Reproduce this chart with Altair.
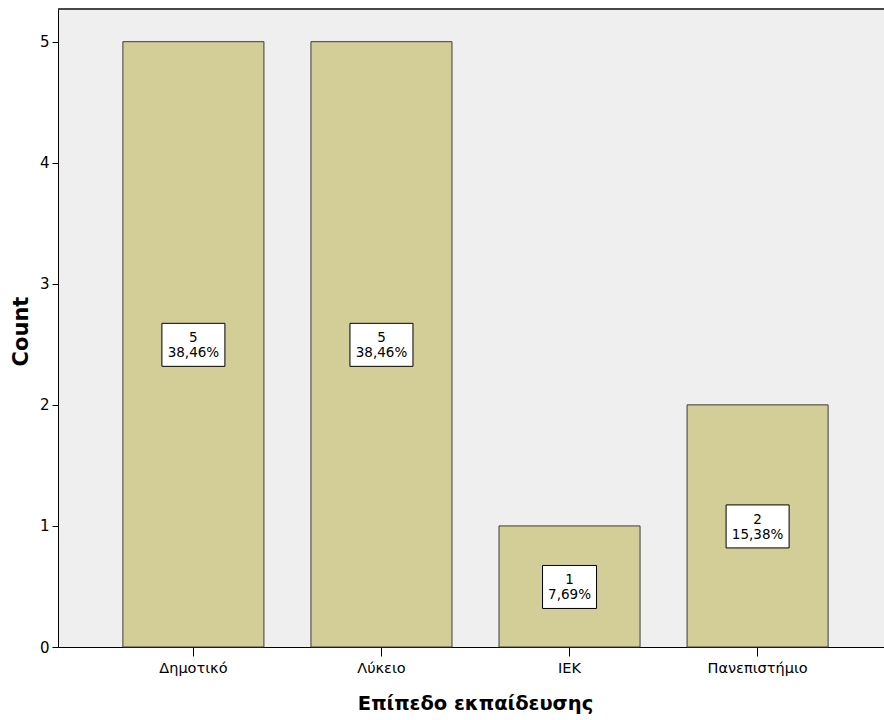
import altair as alt
import pandas as pd

categories = ["Δημοτικό", "Λύκειο", "ΙΕΚ", "Πανεπιστήμιο"]
counts = [5, 5, 1, 2]
percents = ["38,46%", "38,46%", "7,69%", "15,38%"]

df = pd.DataFrame({"cat": categories, "count": counts, "pct": percents})

FONT = "DejaVu Sans"

xscale = alt.Scale(domain=categories, range=[0, 835], paddingInner=0.25, paddingOuter=0.345)
yscale = alt.Scale(domain=[0, 5.27], nice=False, zero=True)

base = alt.Chart(df).transform_calculate(
    mid="datum.count / 2",
    label="datum.count + '\\n' + datum.pct",
)

bars = base.mark_bar(fill="#D3CE97", stroke="#3C3C3C", strokeWidth=1).encode(
    x=alt.X("cat:N", scale=xscale, sort=categories,
            axis=alt.Axis(title="Επίπεδο εκπαίδευσης", labelAngle=0, tickSize=9,
                          labelFont=FONT, labelFontSize=14.5, labelColor="black",
                          labelPadding=5, titleFont=FONT, titleFontSize=19.5,
                          titleFontWeight="bold", titleColor="black", titlePadding=20,
                          titleX=417, domainColor="black", tickColor="black", grid=False)),
    y=alt.Y("count:Q", scale=yscale,
            axis=alt.Axis(title="Count", values=[0, 1, 2, 3, 4, 5], format="d", tickSize=6,
                          labelFont=FONT, labelFontSize=15, labelColor="black",
                          labelPadding=3, titleFont=FONT, titleFontSize=21,
                          titleFontWeight="bold", titleColor="black", titlePadding=8,
                          titleY=322,
                          domainColor="black", tickColor="black", grid=False)),
)

box_long = base.transform_filter("length(datum.pct) > 5").mark_bar(
    width=63, fill="white", stroke="black", strokeWidth=1, yOffset=-21, y2Offset=22
).encode(x=alt.X("cat:N", scale=xscale, sort=categories), y="mid:Q", y2="mid:Q")

box_short = base.transform_filter("length(datum.pct) <= 5").mark_bar(
    width=54, fill="white", stroke="black", strokeWidth=1, yOffset=-21, y2Offset=22
).encode(x=alt.X("cat:N", scale=xscale, sort=categories), y="mid:Q", y2="mid:Q")

texts = base.mark_text(font=FONT, fontSize=13.5, lineHeight=15, lineBreak="\n",
                       color="black", baseline="middle", dy=-6).encode(
    x=alt.X("cat:N", scale=xscale, sort=categories), y="mid:Q", text="label:N"
)

topline = alt.Chart(df).mark_rule(color="#3C3C3C", strokeWidth=1).encode(
    x=alt.value(0), x2=alt.value(826), y=alt.value(0)
)

chart = alt.layer(bars, box_long, box_short, texts, topline).properties(
    width=826, height=638,
    autosize=alt.AutoSizeParams(type="none"),
    padding={"left": 58, "top": 9, "right": 0, "bottom": 73},
    background="white",
).configure_view(fill="#EFEFEF", stroke=None)

chart.save("out.html", embed_options={"renderer": "svg", "actions": False})
